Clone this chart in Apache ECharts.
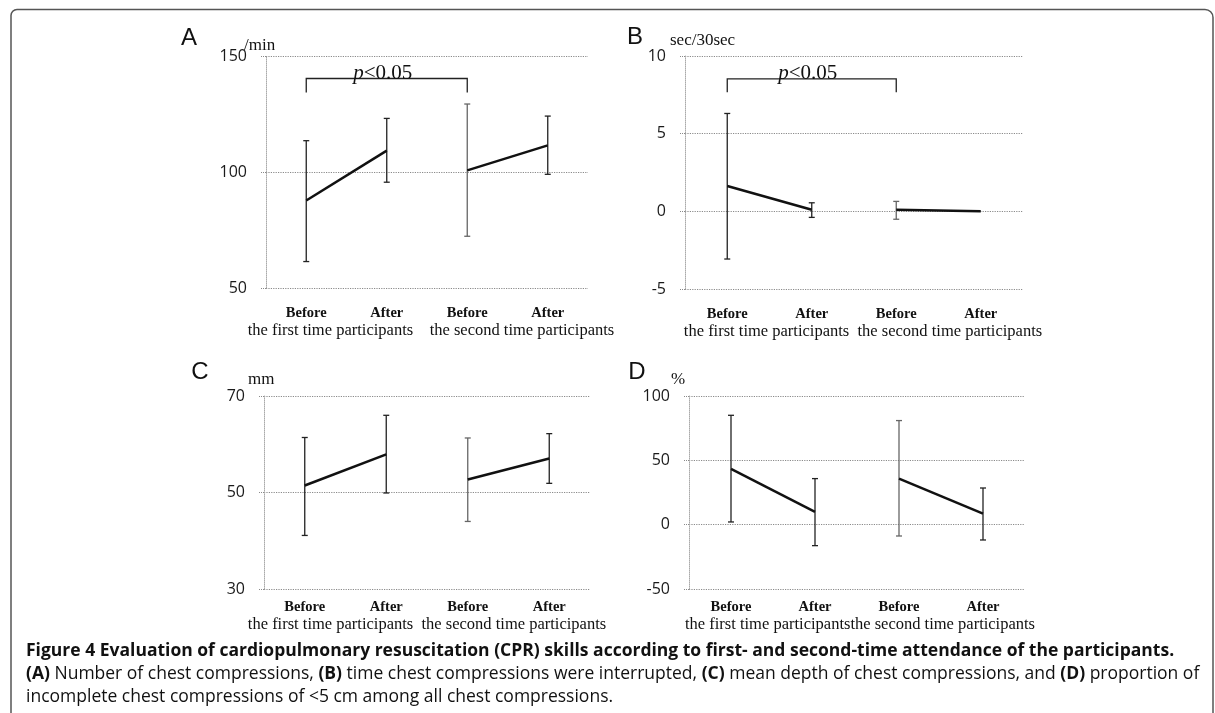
<!DOCTYPE html>
<html>
<head>
<meta charset="utf-8">
<script src="https://cdn.jsdelivr.net/npm/echarts@6/dist/echarts.min.js"></script>
<style>
  html, body {margin: 0; padding: 0; background: #fff;}
  #chart {width: 1215px; height: 713px;}
</style>
</head>
<body>
<div id="chart"></div>
<script>
  var categories = ['Before', 'After', 'Before', 'After'];
  var groupLabel = 'the first time participants    the second time participants';

  // A: number of chest compressions (/min)
  var aMean = [87.7, 109.2, 100.7, 111.5];
  var aLow = [61.4, 95.6, 72.3, 99.0];
  var aHigh = [113.5, 123.1, 129.3, 124.1];
  var aTicks = [50, 150, 50]; // min, max, interval
  var aBracket = [-0.15, 2, 140.3, 134.3]; // from, to, top, tick end

  // B: time compressions interrupted (sec/30sec)
  var bMean = [1.63, 0.1, 0.1, 0.0];
  var bLow = [-3.07, -0.39, -0.51, 0.0];
  var bHigh = [6.3, 0.55, 0.64, 0.0];
  var bTicks = [-5, 10, 5];
  var bBracket = [0, 2, 8.53, 7.66];

  // C: mean depth (mm)
  var cMean = [51.45, 57.9, 52.7, 57.06];
  var cLow = [41.1, 49.9, 44.0, 51.9];
  var cHigh = [61.4, 66.0, 61.3, 62.2];
  var cTicks = [30, 70, 20];

  // D: incomplete compressions (%)
  var dMean = [43.3, 9.9, 35.8, 8.55];
  var dLow = [2.1, -16.3, -8.8, -11.9];
  var dHigh = [85.0, 35.8, 80.9, 28.5];
  var dTicks = [-50, 100, 50];

  var serif = 'Liberation Serif';
  var gridColor = '#8a8a8a';

  // grid boxes in px
  var grids = [
    {left: 266, top: 56, width: 322, height: 232},
    {left: 685, top: 56, width: 338, height: 233},
    {left: 264, top: 396, width: 326, height: 193},
    {left: 689, top: 396, width: 336, height: 193}
  ];
  var labelMargin = [18, 18, 11, 11];
  var nameGap = [33, 32, 26, 25];
  var namePad = [[0, 0, 0, 8], [0, 0, 0, 18], [0, 0, 0, 0], [0, 0, 0, 6]];
  var nameSpacing = ['    ', '  ', '  ', ''];

  function errData(low, high) {
    return low.map(function (l, i) { return [i, l, high[i]]; });
  }

  function renderErr(params, api) {
    var x = api.value(0);
    var lo = api.coord([x, api.value(1)]);
    var hi = api.coord([x, api.value(2)]);
    if (Math.abs(lo[1] - hi[1]) < 1) return;
    var w = 3;
    var st = {stroke: x === 2 ? '#666' : '#222', lineWidth: 1.3};
    return {
      type: 'group',
      children: [
        {type: 'line', shape: {x1: lo[0], y1: lo[1], x2: hi[0], y2: hi[1]}, style: st},
        {type: 'line', shape: {x1: lo[0] - w, y1: lo[1], x2: lo[0] + w, y2: lo[1]}, style: st},
        {type: 'line', shape: {x1: hi[0] - w, y1: hi[1], x2: hi[0] + w, y2: hi[1]}, style: st}
      ]
    };
  }

  function renderBracket(params, api) {
    var p0 = api.coord([api.value(0), api.value(2)]);
    var p1 = api.coord([api.value(1), api.value(2)]);
    var b0 = api.coord([api.value(0), api.value(3)]);
    var b1 = api.coord([api.value(1), api.value(3)]);
    return {
      type: 'group',
      children: [
        {
          type: 'polyline',
          shape: {points: [[b0[0], b0[1]], [p0[0], p0[1]], [p1[0], p1[1]], [b1[0], b1[1]]]},
          style: {stroke: '#222', lineWidth: 1.3, fill: null}
        },
        {
          type: 'text',
          x: (p0[0] + p1[0]) / 2 - 4,
          y: p0[1] + 5,
          style: {
            text: '{p|p}{t|<0.05}',
            align: 'center',
            verticalAlign: 'bottom',
            rich: {
              p: {fontFamily: serif, fontStyle: 'italic', fontSize: 21, fill: '#111'},
              t: {fontFamily: serif, fontSize: 21, fill: '#111'}
            }
          }
        }
      ]
    };
  }

  var xAxes = [], yAxes = [], series = [];
  var panels = [
    {mean: aMean, low: aLow, high: aHigh, ticks: aTicks, bracket: aBracket},
    {mean: bMean, low: bLow, high: bHigh, ticks: bTicks, bracket: bBracket},
    {mean: cMean, low: cLow, high: cHigh, ticks: cTicks},
    {mean: dMean, low: dLow, high: dHigh, ticks: dTicks}
  ];

  panels.forEach(function (p, k) {
    xAxes.push({
      type: 'category',
      gridIndex: k,
      data: categories,
      axisLine: {show: false},
      axisTick: {show: false},
      axisLabel: {
        margin: labelMargin[k],
        fontFamily: serif,
        fontWeight: 'bold',
        fontSize: 14.5,
        color: '#111'
      },
      name: groupLabel.replace('    ', nameSpacing[k]),
      nameLocation: 'middle',
      nameGap: nameGap[k],
      nameTextStyle: {fontFamily: serif, fontSize: 16.5, color: '#111', padding: namePad[k]}
    });
    yAxes.push({
      type: 'value',
      gridIndex: k,
      min: p.ticks[0],
      max: p.ticks[1],
      interval: p.ticks[2],
      axisLine: {show: true, lineStyle: {color: '#aaa', type: 'dotted', width: 1}},
      axisTick: {show: true, length: 6, lineStyle: {color: gridColor, type: 'dotted'}},
      axisLabel: {margin: 19, fontFamily: 'Open Sans', fontSize: 16, color: '#1a1a1a'},
      splitLine: {show: true, lineStyle: {color: gridColor, type: 'dotted', width: 1.2}}
    });
    // mean lines, split between the two sessions
    series.push({
      type: 'line', xAxisIndex: k, yAxisIndex: k,
      data: [p.mean[0], p.mean[1], '-', '-'],
      symbol: 'none', lineStyle: {color: '#111', width: 2.5}, z: 3
    });
    series.push({
      type: 'line', xAxisIndex: k, yAxisIndex: k,
      data: ['-', '-', p.mean[2], p.mean[3]],
      symbol: 'none', lineStyle: {color: '#111', width: 2.5}, z: 3
    });
    series.push({
      type: 'custom', xAxisIndex: k, yAxisIndex: k,
      data: errData(p.low, p.high),
      encode: {x: 0, y: [1, 2]},
      renderItem: renderErr, z: 2
    });
    if (p.bracket) {
      series.push({
        type: 'custom', xAxisIndex: k, yAxisIndex: k,
        data: [p.bracket],
        encode: {x: [0, 1], y: [2, 3]},
        renderItem: renderBracket, z: 4
      });
    }
  });

  var letterFont = 'Liberation Sans';
  var capFont = 'Open Sans';

  function txt(x, y, text, style) {
    return {type: 'text', x: x, y: y, style: Object.assign({text: text, fill: '#111', verticalAlign: 'middle'}, style)};
  }

  var graphics = [
    {
      type: 'rect',
      shape: {x: 11, y: 9.5, width: 1202, height: 760, r: [6, 8, 0, 0]},
      style: {fill: null, stroke: '#555', lineWidth: 1.5},
      silent: true
    },
    txt(189, 38, 'A', {fontFamily: letterFont, fontSize: 24, align: 'center'}),
    txt(244, 46, '/min', {fontFamily: serif, fontSize: 17}),
    txt(635, 37, 'B', {fontFamily: letterFont, fontSize: 24, align: 'center'}),
    txt(670, 41, 'sec/30sec', {fontFamily: serif, fontSize: 17}),
    txt(200, 372, 'C', {fontFamily: letterFont, fontSize: 24, align: 'center'}),
    txt(248, 380, 'mm', {fontFamily: serif, fontSize: 17}),
    txt(637, 372, 'D', {fontFamily: letterFont, fontSize: 24, align: 'center'}),
    txt(671, 380, '%', {fontFamily: serif, fontSize: 17}),
    txt(26, 651, 'Figure 4 Evaluation of cardiopulmonary resuscitation (CPR) skills according to first- and second-time attendance of the participants.',
      {fontFamily: capFont, fontWeight: 'bold', fontSize: 17.5}),
    txt(26, 674, '{b|(A)} Number of chest compressions, {b|(B)} time chest compressions were interrupted, {b|(C)} mean depth of chest compressions, and {b|(D)} proportion of',
      {fontFamily: capFont, fontSize: 17.5, rich: {b: {fontFamily: capFont, fontSize: 17.5, fontWeight: 'bold', fill: '#111'}}}),
    txt(26, 697, 'incomplete chest compressions of <5 cm among all chest compressions.',
      {fontFamily: capFont, fontSize: 17.5})
  ];

  var chart = echarts.init(document.getElementById('chart'));
  chart.setOption({
    animation: false,
    backgroundColor: '#fff',
    grid: grids,
    xAxis: xAxes,
    yAxis: yAxes,
    series: series,
    graphic: graphics
  });
</script>
</body>
</html>
